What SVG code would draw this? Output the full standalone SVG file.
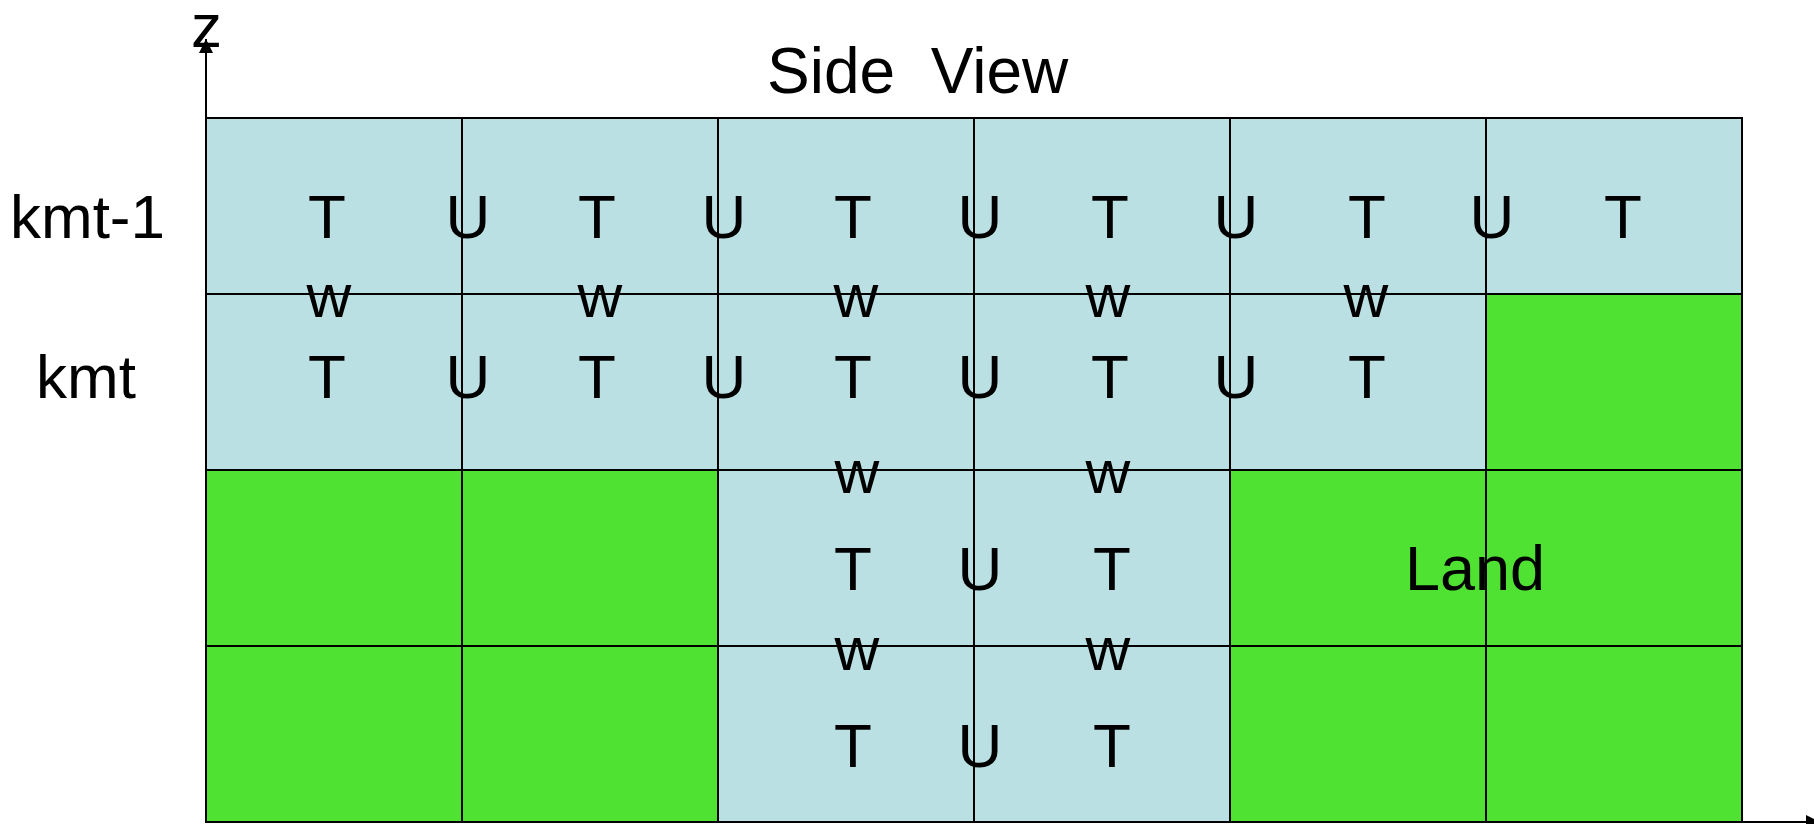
<svg xmlns="http://www.w3.org/2000/svg" width="1814" height="824" viewBox="0 0 1814 824">
<style>
.o{fill:#BBE0E3;stroke:#000;stroke-width:2}
.l{fill:#50E232;stroke:#000;stroke-width:2}
text{font-family:"Liberation Sans",Arial,sans-serif;font-size:62px;fill:#000}
.c{text-anchor:middle}
.ax{stroke:#000;stroke-width:2;fill:none}
</style>
<defs>
<marker id="ah" viewBox="0 0 10 10" refX="10" refY="5" markerWidth="14" markerHeight="14" markerUnits="userSpaceOnUse" orient="auto">
<path d="M0,0 L10,5 L0,10 z" fill="#000"/>
</marker>
</defs>
<rect width="1814" height="824" fill="#fff"/>
<g id="grid">
<g id="row1">
<rect class="o" x="206" y="118" width="256" height="176"/>
<rect class="o" x="462" y="118" width="256" height="176"/>
<rect class="o" x="718" y="118" width="256" height="176"/>
<rect class="o" x="974" y="118" width="256" height="176"/>
<rect class="o" x="1230" y="118" width="256" height="176"/>
<rect class="o" x="1486" y="118" width="256" height="176"/>
</g>
<g id="row2">
<rect class="o" x="206" y="294" width="256" height="176"/>
<rect class="o" x="462" y="294" width="256" height="176"/>
<rect class="o" x="718" y="294" width="256" height="176"/>
<rect class="o" x="974" y="294" width="256" height="176"/>
<rect class="o" x="1230" y="294" width="256" height="176"/>
<rect class="l" x="1486" y="294" width="256" height="176"/>
</g>
<g id="row3">
<rect class="l" x="206" y="470" width="256" height="176"/>
<rect class="l" x="462" y="470" width="256" height="176"/>
<rect class="o" x="718" y="470" width="256" height="176"/>
<rect class="o" x="974" y="470" width="256" height="176"/>
<rect class="l" x="1230" y="470" width="256" height="176"/>
<rect class="l" x="1486" y="470" width="256" height="176"/>
</g>
<g id="row4">
<rect class="l" x="206" y="646" width="256" height="176"/>
<rect class="l" x="462" y="646" width="256" height="176"/>
<rect class="o" x="718" y="646" width="256" height="176"/>
<rect class="o" x="974" y="646" width="256" height="176"/>
<rect class="l" x="1230" y="646" width="256" height="176"/>
<rect class="l" x="1486" y="646" width="256" height="176"/>
</g>
</g>
<g id="connectors">
<line class="ax" x1="206" y1="822" x2="206" y2="39" marker-end="url(#ah)"/>
<line class="ax" x1="206" y1="822" x2="1820" y2="822" marker-end="url(#ah)"/>
</g>
<g id="axis-labels">
<text x="191" y="47">z</text>
<text x="767" y="93" style="white-space:pre;font-size:64px">Side  View</text>
<text x="10" y="238">kmt-1</text>
<text x="36" y="398">kmt</text>
<text x="1405" y="590" style="font-size:63px">Land</text>
</g>
<g id="points-row1">
<text class="c" x="327" y="238">T</text>
<text class="c" x="468" y="238">U</text>
<text class="c" x="597" y="238">T</text>
<text class="c" x="724" y="238">U</text>
<text class="c" x="853" y="238">T</text>
<text class="c" x="980" y="238">U</text>
<text class="c" x="1110" y="238">T</text>
<text class="c" x="1236" y="238">U</text>
<text class="c" x="1367" y="238">T</text>
<text class="c" x="1492" y="238">U</text>
<text class="c" x="1623" y="238">T</text>
</g>
<g id="points-w1">
<text class="c" x="329" y="317">w</text>
<text class="c" x="600" y="317">w</text>
<text class="c" x="856" y="317">w</text>
<text class="c" x="1108" y="317">w</text>
<text class="c" x="1366" y="317">w</text>
</g>
<g id="points-row2">
<text class="c" x="327" y="398">T</text>
<text class="c" x="468" y="398">U</text>
<text class="c" x="597" y="398">T</text>
<text class="c" x="724" y="398">U</text>
<text class="c" x="853" y="398">T</text>
<text class="c" x="980" y="398">U</text>
<text class="c" x="1110" y="398">T</text>
<text class="c" x="1236" y="398">U</text>
<text class="c" x="1367" y="398">T</text>
</g>
<g id="points-row3">
<text class="c" x="857" y="493">w</text>
<text class="c" x="1108" y="493">w</text>
<text class="c" x="853" y="590">T</text>
<text class="c" x="980" y="590">U</text>
<text class="c" x="1112" y="590">T</text>
</g>
<g id="points-row4">
<text class="c" x="857" y="670">w</text>
<text class="c" x="1108" y="670">w</text>
<text class="c" x="853" y="767">T</text>
<text class="c" x="980" y="767">U</text>
<text class="c" x="1112" y="767">T</text>
</g>
</svg>
